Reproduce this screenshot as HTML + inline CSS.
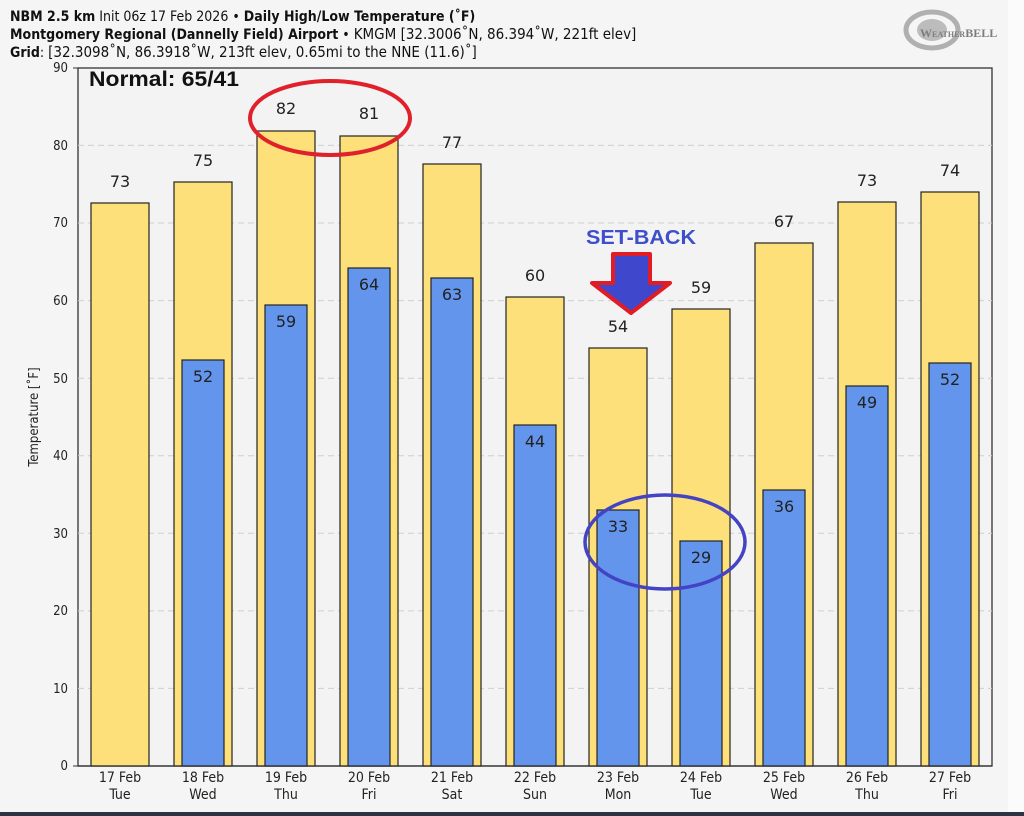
<!DOCTYPE html>
<html><head><meta charset="utf-8"><style>
html,body{margin:0;padding:0;background:#f4f4f4;}
svg{display:block;}
</style></head><body>
<svg width="1024" height="816" viewBox="0 0 1024 816" xmlns="http://www.w3.org/2000/svg">
<rect x="0" y="0" width="1024" height="816" fill="#f5f5f5"/>
<rect x="1008" y="0" width="16" height="812" fill="#fbfbfb"/>
<g font-family="'DejaVu Sans Condensed','DejaVu Sans',sans-serif" font-size="14" fill="#111">
<text x="10" y="21"><tspan font-weight="bold">NBM 2.5 km</tspan> Init 06z 17 Feb 2026 • <tspan font-weight="bold">Daily High/Low Temperature (˚F)</tspan></text>
<text x="10" y="39"><tspan font-weight="bold">Montgomery Regional (Dannelly Field) Airport</tspan> • <tspan font-size="15">KMGM [32.3006˚N, 86.394˚W, 221ft elev]</tspan></text>
<text x="10" y="57"><tspan font-weight="bold">Grid</tspan>: <tspan font-size="15">[32.3098˚N, 86.3918˚W, 213ft elev, 0.65mi to the NNE (11.6)˚]</tspan></text>
</g>
<!-- logo -->
<g opacity="0.75">
<ellipse cx="932" cy="30" rx="26" ry="18" fill="none" stroke="#999" stroke-width="5"/>
<ellipse cx="932" cy="30" rx="15" ry="11" fill="#aaa"/>
<text x="920" y="37" font-family="'Liberation Serif',serif" font-size="12" font-weight="bold" fill="#555">W<tspan font-size="8">EATHER</tspan>BELL</text>
</g>
<!-- plot -->
<rect x="78" y="68" width="914" height="698" fill="#f3f3f3" stroke="#333" stroke-width="1.3"/>
<g stroke="#cfcfcf" stroke-dasharray="6,4" stroke-width="1">
<line x1="78" x2="992" y1="145.4" y2="145.4"/><line x1="78" x2="992" y1="223" y2="223"/>
<line x1="78" x2="992" y1="300.6" y2="300.6"/><line x1="78" x2="992" y1="378.2" y2="378.2"/>
<line x1="78" x2="992" y1="455.8" y2="455.8"/><line x1="78" x2="992" y1="533.3" y2="533.3"/>
<line x1="78" x2="992" y1="610.9" y2="610.9"/><line x1="78" x2="992" y1="688.4" y2="688.4"/>
</g>
<g font-family="'DejaVu Sans Condensed','DejaVu Sans',sans-serif" font-size="13" fill="#222" text-anchor="end">
<text x="68" y="72">90</text><text x="68" y="150">80</text><text x="68" y="227">70</text>
<text x="68" y="305">60</text><text x="68" y="383">50</text><text x="68" y="460">40</text>
<text x="68" y="538">30</text><text x="68" y="615">20</text><text x="68" y="693">10</text>
<text x="68" y="770">0</text>
</g>
<g stroke="#333"><line x1="73" x2="78" y1="68" y2="68"/><line x1="73" x2="78" y1="766" y2="766"/></g>
<text transform="translate(38,417) rotate(-90)" text-anchor="middle" font-family="'DejaVu Sans Condensed','DejaVu Sans',sans-serif" font-size="13" fill="#222">Temperature [˚F]</text>
<text x="89" y="86" font-family="'Liberation Sans',sans-serif" font-size="21" font-weight="bold" fill="#111" textLength="150" lengthAdjust="spacingAndGlyphs">Normal: 65/41</text>
<g stroke="#222" stroke-width="1.2">
<rect x="91" y="203" width="58" height="563" fill="#fde07a"/>
<rect x="174" y="182" width="58" height="584" fill="#fde07a"/>
<rect x="257" y="131" width="58" height="635" fill="#fde07a"/>
<rect x="340" y="136" width="58" height="630" fill="#fde07a"/>
<rect x="423" y="164" width="58" height="602" fill="#fde07a"/>
<rect x="506" y="297" width="58" height="469" fill="#fde07a"/>
<rect x="589" y="348" width="58" height="418" fill="#fde07a"/>
<rect x="672" y="309" width="58" height="457" fill="#fde07a"/>
<rect x="755" y="243" width="58" height="523" fill="#fde07a"/>
<rect x="838" y="202" width="58" height="564" fill="#fde07a"/>
<rect x="921" y="192" width="58" height="574" fill="#fde07a"/>
<rect x="182" y="360" width="42" height="406" fill="#6495ed"/>
<rect x="265" y="305" width="42" height="461" fill="#6495ed"/>
<rect x="348" y="268" width="42" height="498" fill="#6495ed"/>
<rect x="431" y="278" width="42" height="488" fill="#6495ed"/>
<rect x="514" y="425" width="42" height="341" fill="#6495ed"/>
<rect x="597" y="510" width="42" height="256" fill="#6495ed"/>
<rect x="680" y="541" width="42" height="225" fill="#6495ed"/>
<rect x="763" y="490" width="42" height="276" fill="#6495ed"/>
<rect x="846" y="386" width="42" height="380" fill="#6495ed"/>
<rect x="929" y="363" width="42" height="403" fill="#6495ed"/>
</g>
<line x1="78" x2="992" y1="766" y2="766" stroke="#333" stroke-width="1.3"/>
<g font-family="'DejaVu Sans','DejaVu Sans Condensed',sans-serif" font-size="16" fill="#222" text-anchor="middle">
<text x="120" y="187">73</text><text x="203" y="166">75</text><text x="286" y="114">82</text>
<text x="369" y="119">81</text><text x="452" y="148">77</text><text x="535" y="281">60</text>
<text x="618" y="332">54</text><text x="701" y="293">59</text><text x="784" y="227">67</text>
<text x="867" y="186">73</text><text x="950" y="176">74</text>
<text x="203" y="382">52</text><text x="286" y="327">59</text><text x="369" y="290">64</text>
<text x="452" y="300">63</text><text x="535" y="447">44</text><text x="618" y="532">33</text>
<text x="701" y="563">29</text><text x="784" y="512">36</text><text x="867" y="408">49</text>
<text x="950" y="385">52</text>
</g>
<g font-family="'DejaVu Sans Condensed','DejaVu Sans',sans-serif" font-size="14" fill="#222" text-anchor="middle">
<text x="120" y="782">17 Feb</text><text x="120" y="799">Tue</text>
<text x="203" y="782">18 Feb</text><text x="203" y="799">Wed</text>
<text x="286" y="782">19 Feb</text><text x="286" y="799">Thu</text>
<text x="369" y="782">20 Feb</text><text x="369" y="799">Fri</text>
<text x="452" y="782">21 Feb</text><text x="452" y="799">Sat</text>
<text x="535" y="782">22 Feb</text><text x="535" y="799">Sun</text>
<text x="618" y="782">23 Feb</text><text x="618" y="799">Mon</text>
<text x="701" y="782">24 Feb</text><text x="701" y="799">Tue</text>
<text x="784" y="782">25 Feb</text><text x="784" y="799">Wed</text>
<text x="867" y="782">26 Feb</text><text x="867" y="799">Thu</text>
<text x="950" y="782">27 Feb</text><text x="950" y="799">Fri</text>
</g>
<!-- annotations -->
<ellipse cx="330" cy="118" rx="80" ry="37" fill="none" stroke="#e0202a" stroke-width="4"/>
<ellipse cx="665" cy="542" rx="80" ry="47" fill="none" stroke="#4343c4" stroke-width="3.5"/>
<text x="641" y="244" text-anchor="middle" font-family="'Liberation Sans',sans-serif" font-size="20" font-weight="bold" fill="#3f4fcc" textLength="110" lengthAdjust="spacingAndGlyphs">SET-BACK</text>
<polygon points="613,254 650,254 650,283 670,283 631,313 592,283 613,283" fill="#3f47cc" stroke="#e21c24" stroke-width="4" stroke-linejoin="round"/>
<rect x="0" y="812" width="1024" height="4" fill="#2b3542"/>
</svg>
</body></html>
